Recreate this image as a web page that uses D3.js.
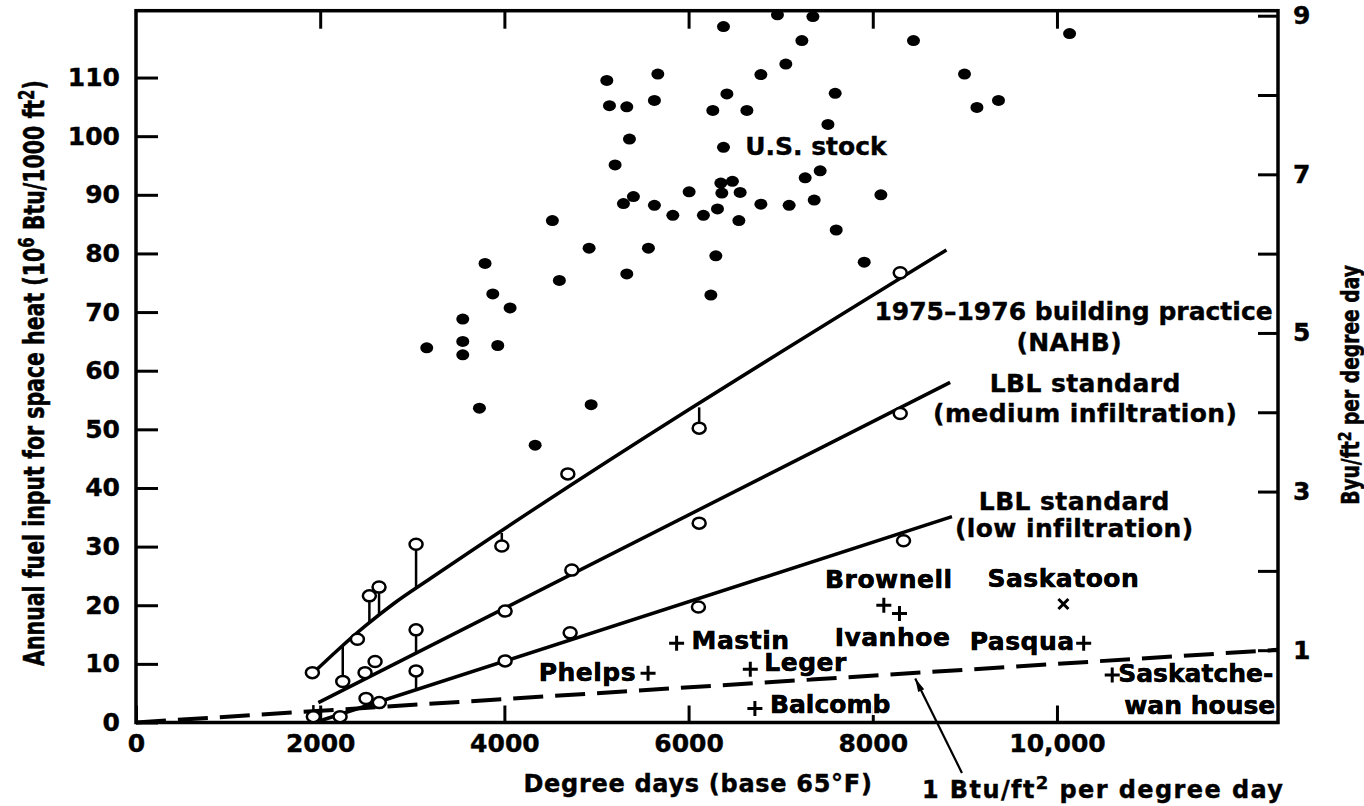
<!DOCTYPE html>
<html>
<head>
<meta charset="utf-8">
<script src="https://cdnjs.cloudflare.com/ajax/libs/d3/7.8.5/d3.min.js"></script>
<style>
  body { margin: 0; background: #fff; }
  text { font-family: "DejaVu Sans", sans-serif; font-weight: bold; fill: #000; stroke: #000; stroke-width: 0.4px; }
  .tick line { stroke: #000; stroke-width: 3; }
  .tick text { font-size: 25px; }
  .site { paint-order: stroke; stroke: #fff; stroke-width: 4px; }
</style>
</head>
<body>
<div id="graph"></div>
<script>
// ---- data (degree days, 10^6 Btu per 1000 ft2) ----
var stockDD = [6379, 6965, 7350, 7230, 7056, 6785, 5112, 5666, 5141, 5329, 5629, 6416, 6263, 6633, 7592, 7513,
  5358, 6379, 5202, 7429, 7266, 6350, 6476, 6361, 6560, 6006, 5401, 5293, 5629, 5829, 6161, 6314, 6785, 7092,
  7364, 8088, 6546, 4521, 7603, 4920, 5564, 6296, 7907, 3790, 4597, 5329, 3874, 6242, 8442, 10137, 8996, 9131,
  9365, 4062, 3548, 3157, 3548, 3548, 3928, 3729, 4942, 4334];
var stockFuel = [118.7, 120.7, 120.4, 116.3, 112.3, 110.5, 109.5, 110.6, 105.2, 105.0, 106.1, 107.2, 104.4, 104.4,
  107.3, 102.0, 99.5, 98.1, 95.1, 94.1, 92.9, 92.0, 92.3, 90.3, 90.4, 90.5, 89.7, 88.5, 88.2, 86.5, 86.5, 87.6,
  88.4, 88.2, 89.1, 90.0, 85.6, 85.6, 84.0, 80.9, 80.9, 79.6, 78.5, 78.3, 75.4, 76.5, 73.1, 72.9, 116.3, 117.5,
  110.6, 104.9, 106.1, 70.7, 68.8, 63.9, 65.0, 62.7, 64.3, 53.6, 54.2, 47.3];

// 1975-1976 building practice (NAHB)
var nahbDD = [1915, 2245, 2404, 2534, 2639, 3041, 3972, 4689, 6115, 8298];
var nahbFuel = [8.5, 7.0, 14.2, 21.6, 23.1, 30.4, 30.1, 42.4, 50.2, 76.7];
var nahbStem = [0, 1, 0, 1, 1, 1, 1, 0, 1, 0];
var nahbLineDD = [1940, 2200, 2500, 2800, 3200, 8800];
var nahbLineFuel = [8.7, 12.5, 16.6, 20.3, 24.6, 80.6];

// LBL standard, medium infiltration
var medDD = [1926, 2487, 2596, 3041, 4008, 4732, 6115, 8298];
var medFuel = [1.0, 8.5, 10.4, 15.8, 19.0, 26.0, 34.0, 52.7];
var medStem = [1, 0, 0, 1, 0, 0, 0, 0];
var medLineDD = [1980, 8840];
var medLineFuel = [3.4, 58.0];

// LBL standard, low infiltration
var lowDD = [2216, 2498, 2642, 3041, 4008, 4714, 6107, 8334];
var lowFuel = [1.0, 4.1, 3.4, 8.8, 10.5, 15.3, 19.7, 31.0];
var lowStem = [0, 0, 0, 1, 0, 0, 0, 0];
var lowLineDD = [2000, 8860];
var lowLineFuel = [0.3, 35.1];

// 1 Btu/ft2 per degree day reference
var refDD = [0, 12400];
var refFuel = [0, 12.4];

// individual houses
var siteNames = ["Mastin", "Leger", "Phelps", "Balcomb", "Brownell", "Ivanhoe", "Saskatoon", "Pasqua", "Saskatche-|wan house"];
var siteDD = [5870, 6670, 5560, 6720, 8120, 8290, 10070, 10290, 10600];
var siteFuel = [13.5, 9.1, 8.4, 2.4, 20.0, 18.6, 20.2, 13.5, 8.1];
var siteMark = ["+", "+", "+", "+", "+", "+", "x", "+", "+"];

var xTicks = [0, 2000, 4000, 6000, 8000, 10000];
var yTicks = [0, 10, 20, 30, 40, 50, 60, 70, 80, 90, 100, 110];
var rTicks = [1, 2, 3, 4, 5, 6, 7, 8, 9];

// ---- layout ----
var margin = { top: 10.7, right: 86, bottom: 83.5, left: 136 },
  width = 1364 - margin.left - margin.right,
  height = 806 - margin.top - margin.bottom;

var x = d3.scaleLinear().domain([0, 12400]).range([0, width]);
var y = d3.scaleLinear().domain([0, 121.4]).range([height, 0]);
var yR = d3.scaleLinear().domain([0, 9]).range([height + 7, 5]);

var svg = d3.select("#graph").append("svg")
  .attr("width", 1364).attr("height", 806);

var defs = svg.append("defs");
defs.append("marker")
  .attr("id", "arrow")
  .attr("viewBox", "0 0 12 8")
  .attr("refX", 12).attr("refY", 4)
  .attr("markerUnits", "userSpaceOnUse")
  .attr("markerWidth", 14).attr("markerHeight", 9)
  .attr("orient", "auto")
  .append("path").attr("d", "M0,1L12,4L0,7z");

var g = svg.append("g").attr("transform", "translate(" + margin.left + "," + margin.top + ")");

// axes (ticks point inward)
function noDomain(sel) { sel.select(".domain").remove(); }

g.append("g")
  .call(d3.axisLeft(y).tickValues(yTicks).tickSize(-22).tickPadding(16))
  .call(noDomain);

g.append("g")
  .attr("transform", "translate(0," + height + ")")
  .call(d3.axisBottom(x).tickValues(xTicks).tickSize(-17).tickPadding(12)
    .tickFormat(function (d) { return d >= 10000 ? d3.format(",")(d) : d; }))
  .call(noDomain);

g.append("g")
  .call(d3.axisTop(x).tickValues(xTicks.slice(1)).tickSize(-18).tickFormat(""))
  .call(noDomain);

g.append("g")
  .attr("transform", "translate(" + width + ",0)")
  .call(d3.axisRight(yR).tickValues(rTicks).tickSize(-20).tickPadding(15)
    .tickFormat(function (d) { return d % 2 ? d : ""; }))
  .call(noDomain);

g.selectAll(".tick text").attr("font-family", null).attr("font-size", null);

// frame
g.append("rect")
  .attr("width", width).attr("height", height)
  .attr("fill", "none").attr("stroke", "#000").attr("stroke-width", 3.5);

// reference dashed line
var line = d3.line().x(function (d) { return x(d[0]); }).y(function (d) { return y(d[1]); });

g.append("path")
  .datum(d3.zip(refDD, refFuel))
  .attr("d", line)
  .attr("fill", "none").attr("stroke", "#000").attr("stroke-width", 4)
  .attr("stroke-dasharray", "30,12");

// fitted lines, stems, open circles
function lineAt(xs, ys, v) {
  var i = Math.max(1, Math.min(xs.length - 1, d3.bisectLeft(xs, v)));
  var t = (v - xs[i - 1]) / (xs[i] - xs[i - 1]);
  return ys[i - 1] + t * (ys[i] - ys[i - 1]);
}

var series = [
  { lx: nahbLineDD, ly: nahbLineFuel, px: nahbDD, py: nahbFuel, stem: nahbStem },
  { lx: medLineDD, ly: medLineFuel, px: medDD, py: medFuel, stem: medStem },
  { lx: lowLineDD, ly: lowLineFuel, px: lowDD, py: lowFuel, stem: lowStem }
];

var curved = d3.line().curve(d3.curveMonotoneX)
  .x(function (d) { return x(d[0]); }).y(function (d) { return y(d[1]); });

series.forEach(function (s) {
  g.append("path")
    .datum(d3.zip(s.lx, s.ly))
    .attr("d", curved)
    .attr("fill", "none").attr("stroke", "#000").attr("stroke-width", 3.5);

  var pts = d3.zip(s.px, s.py).filter(function (d, i) { return s.stem[i]; });
  g.append("g").selectAll("line")
    .data(pts).enter().append("line")
    .attr("x1", function (d) { return x(d[0]); })
    .attr("x2", function (d) { return x(d[0]); })
    .attr("y1", function (d) { return y(d[1]); })
    .attr("y2", function (d) { return y(lineAt(s.lx, s.ly, d[0])); })
    .attr("stroke", "#000").attr("stroke-width", 2.5);
});

series.forEach(function (s) {
  g.append("g").selectAll("ellipse")
    .data(d3.zip(s.px, s.py)).enter().append("ellipse")
    .attr("cx", function (d) { return x(d[0]); })
    .attr("cy", function (d) { return y(d[1]); })
    .attr("rx", 6.5).attr("ry", 5.5)
    .attr("fill", "#fff").attr("stroke", "#000").attr("stroke-width", 2.5);
});

// U.S. stock
g.append("g").selectAll("ellipse")
  .data(d3.zip(stockDD, stockFuel)).enter().append("ellipse")
  .attr("cx", function (d) { return x(d[0]); })
  .attr("cy", function (d) { return y(d[1]); })
  .attr("rx", 6.5).attr("ry", 5.5)
  .attr("fill", "#000");

// houses
var sites = siteNames.map(function (n, i) {
  return { name: n, dd: siteDD[i], fuel: siteFuel[i], mark: siteMark[i] };
});
// label placement relative to the marker: [dx, dy, anchor, letter-spacing]
var place = {
  "Mastin": [15, 6, "start", 0.5], "Leger": [14, 2, "start", 0.5], "Phelps": [-12, 8, "end", 0.5],
  "Balcomb": [15, 5, "start", 0], "Brownell": [5, -17, "middle", 0.5], "Ivanhoe": [-7, 33, "middle", 0.5],
  "Saskatoon": [0, -17, "middle", 0.5], "Pasqua": [-9, 7, "end", 0.5], "Saskatche-|wan house": [6, 7, "start", 0]
};

var siteG = g.append("g").selectAll("g")
  .data(sites).enter().append("g")
  .attr("transform", function (d) { return "translate(" + x(d.dd) + "," + y(d.fuel) + ")"; });

siteG.append("text")
  .attr("class", "site")
  .attr("font-size", 25)
  .attr("letter-spacing", function (d) { return place[d.name][3]; })
  .attr("x", function (d) { return place[d.name][0]; })
  .attr("y", function (d) { return place[d.name][1]; })
  .attr("text-anchor", function (d) { return place[d.name][2]; })
  .each(function (d) {
    var t = d3.select(this), parts = d.name.split("|");
    parts.forEach(function (p, k) {
      t.append("tspan")
        .attr("x", place[d.name][0] + (k ? 6 : 0))
        .attr("dy", k ? 32 : 0)
        .text(p);
    });
  });

// dark copy of the labels over the white halo
siteG.append("text")
  .attr("font-size", 25)
  .attr("letter-spacing", function (d) { return place[d.name][3]; })
  .attr("x", function (d) { return place[d.name][0]; })
  .attr("y", function (d) { return place[d.name][1]; })
  .attr("text-anchor", function (d) { return place[d.name][2]; })
  .each(function (d) {
    var t = d3.select(this), parts = d.name.split("|");
    parts.forEach(function (p, k) {
      t.append("tspan")
        .attr("x", place[d.name][0] + (k ? 6 : 0))
        .attr("dy", k ? 32 : 0)
        .text(p);
    });
  });

siteG.append("path")
  .attr("d", function (d) {
    return d.mark === "x" ? "M-5,-5L5,5M-5,5L5,-5" : "M-7.5,0H7.5M0,-7.5V7.5";
  })
  .attr("stroke", "#000").attr("stroke-width", 3).attr("fill", "none");

// curve labels
var curveLabels = [
  { text: "1975\u20131976 building practice", dd: 10180, fuel: 68.7 },
  { text: "(NAHB)", dd: 10133, fuel: 63.3 },
  { text: "LBL standard", dd: 10307, fuel: 56.4 },
  { text: "(medium infiltration)", dd: 10307, fuel: 51.3 },
  { text: "LBL standard", dd: 10188, fuel: 36.25 },
  { text: "(low infiltration)", dd: 10188, fuel: 31.7 }
];
g.append("g").selectAll("text")
  .data(curveLabels).enter().append("text")
  .attr("x", function (d) { return x(d.dd); })
  .attr("y", function (d) { return y(d.fuel); })
  .attr("text-anchor", "middle")
  .attr("font-size", 25)
  .attr("letter-spacing", function (d) { return d.text.length > 24 ? 0 : 0.4; })
  .text(function (d) { return d.text; });

g.append("text")
  .attr("x", x(6614)).attr("y", y(96.8))
  .attr("font-size", 25)
  .text("U.S. stock");

// arrow to the dashed line
g.append("line")
  .attr("x1", x(8968)).attr("y1", y(-8.6))
  .attr("x2", x(8461)).attr("y2", y(7.5))
  .attr("stroke", "#000").attr("stroke-width", 2.2)
  .attr("marker-end", "url(#arrow)");

// axis titles
svg.append("text")
  .attr("x", 698).attr("y", 792)
  .attr("text-anchor", "middle")
  .attr("font-size", 24).attr("letter-spacing", 0.7)
  .text("Degree days (base 65\u00b0F)");

var bt = svg.append("text")
  .attr("x", 922).attr("y", 798)
  .attr("font-size", 24).attr("letter-spacing", 1.4);
bt.append("tspan").text("1 Btu/ft");
bt.append("tspan").attr("dy", -9).attr("font-size", 18).text("2");
bt.append("tspan").attr("dy", 9).text(" per degree day");

var yt = svg.append("text")
  .attr("transform", "translate(44,373) rotate(-90) scale(1,1.4)")
  .attr("text-anchor", "middle")
  .attr("font-size", 20.5);
yt.append("tspan").text("Annual fuel input for space heat (10");
yt.append("tspan").attr("dy", -7).attr("font-size", 15).text("6");
yt.append("tspan").attr("dy", 7).text(" Btu/1000 ft");
yt.append("tspan").attr("dy", -7).attr("font-size", 15).text("2");
yt.append("tspan").attr("dy", 7).text(")");

var rt = svg.append("text")
  .attr("transform", "translate(1359,385) rotate(-90) scale(1,1.3)")
  .attr("text-anchor", "middle")
  .attr("font-size", 18.7);
rt.append("tspan").text("Byu/ft");
rt.append("tspan").attr("dy", -6).attr("font-size", 14).text("2");
rt.append("tspan").attr("dy", 6).text(" per degree day");
</script>
</body>
</html>
